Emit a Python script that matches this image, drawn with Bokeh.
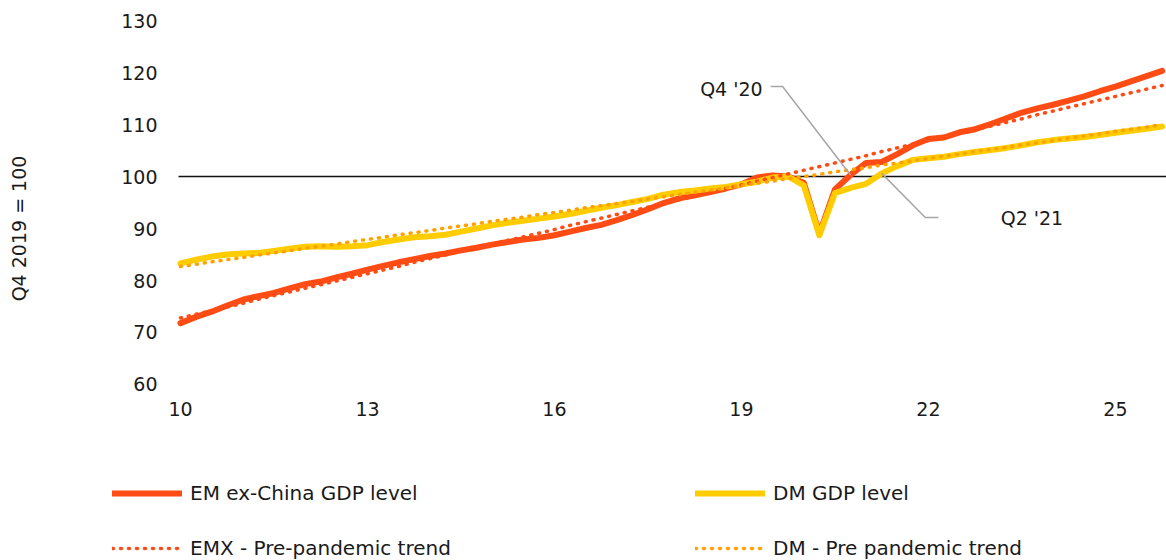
from math import pi
from bokeh.plotting import figure
from bokeh.models import (Range1d, FixedTicker, LinearAxis, Legend, LegendItem,
                          Label)
from bokeh.embed import file_html
from bokeh.resources import INLINE

FONT = "DejaVu Sans"

# ---------------- data (quarterly, Q1 2010 .. Q4 2025) ----------------
years = list(range(2010, 2026))
quarters = [1, 2, 3, 4]
quarter_x = [y - 2000 + (q - 1) / 4 for y in years for q in quarters]

em_gdp = [
    71.8, 73.0, 74.0, 75.2, 76.3, 77.0, 77.6, 78.5,
    79.3, 79.8, 80.6, 81.3, 82.1, 82.8, 83.5, 84.1,
    84.7, 85.2, 85.8, 86.3, 86.9, 87.4, 87.9, 88.2,
    88.7, 89.4, 90.1, 90.7, 91.6, 92.6, 93.7, 94.9,
    95.8, 96.4, 97.0, 97.7, 98.5, 99.8, 100.2, 100.0,
    98.8, 89.0, 97.5, 100.3, 102.6, 102.8, 104.3, 106.0,
    107.2, 107.5, 108.5, 109.1, 110.1, 111.2, 112.3, 113.1,
    113.8, 114.6, 115.4, 116.4, 117.3, 118.3, 119.3, 120.3,
]
dm_gdp = [
    83.3, 84.0, 84.6, 85.0, 85.2, 85.3, 85.7, 86.1,
    86.5, 86.6, 86.5, 86.6, 86.8, 87.4, 87.9, 88.3,
    88.5, 88.8, 89.4, 90.0, 90.6, 91.1, 91.5, 91.9,
    92.3, 92.8, 93.4, 94.0, 94.5, 95.1, 95.7, 96.5,
    97.0, 97.3, 97.7, 98.0, 98.5, 99.0, 99.8, 100.0,
    98.3, 88.7, 96.8, 97.8, 98.6, 100.6, 102.0, 103.2,
    103.5, 103.8, 104.3, 104.7, 105.1, 105.5, 106.0, 106.6,
    107.0, 107.3, 107.6, 108.0, 108.4, 108.8, 109.2, 109.6,
]
em_trend = [
    72.8, 73.5, 74.2, 74.9, 75.6, 76.4, 77.1, 77.8,
    78.5, 79.2, 79.9, 80.6, 81.3, 82.0, 82.7, 83.5,
    84.2, 84.9, 85.6, 86.3, 87.0, 87.7, 88.4, 89.1,
    89.8, 90.6, 91.3, 92.0, 92.7, 93.4, 94.1, 94.8,
    95.5, 96.2, 96.9, 97.7, 98.4, 99.1, 99.8, 100.5,
    101.2, 101.9, 102.6, 103.3, 104.0, 104.8, 105.5, 106.2,
    106.9, 107.6, 108.3, 109.0, 109.7, 110.4, 111.1, 111.9,
    112.6, 113.3, 114.0, 114.7, 115.4, 116.1, 116.8, 117.5,
]
dm_trend = [
    82.7, 83.1, 83.6, 84.0, 84.4, 84.9, 85.3, 85.7,
    86.2, 86.6, 87.0, 87.5, 87.9, 88.3, 88.8, 89.2,
    89.6, 90.1, 90.5, 90.9, 91.4, 91.8, 92.2, 92.7,
    93.1, 93.5, 94.0, 94.4, 94.8, 95.2, 95.7, 96.1,
    96.5, 97.0, 97.4, 97.8, 98.3, 98.7, 99.1, 99.6,
    100.0, 100.4, 100.9, 101.3, 101.7, 102.2, 102.6, 103.0,
    103.5, 103.9, 104.3, 104.8, 105.2, 105.6, 106.1, 106.5,
    106.9, 107.4, 107.8, 108.2, 108.7, 109.1, 109.5, 110.0,
]

x_ticks = [10, 13, 16, 19, 22, 25]
y_ticks = [60, 70, 80, 90, 100, 110, 120, 130]
baseline = 100

labels = ["EM ex-China GDP level", "DM GDP level",
          "EMX - Pre-pandemic trend", "DM - Pre pandemic trend"]
y_title = "Q4 2019 = 100"
note_q4 = "Q4 '20"
note_q2 = "Q2 '21"

EM_COL = "#ff4b14"
DM_COL = "#ffcc00"
DM_TREND_COL = "#ffa200"
GREY = "#a6a6a6"
TXT = "#1a1a1a"

# plotting area of the chart (axes sit at its left and bottom edges)
X_START, X_END = 9.968, 25.82
Y_BOTTOM = 60

# ---------------- figure: frame covers the whole canvas ----------------
p = figure(width=1166, height=560, output_backend="svg", toolbar_location=None,
           x_range=Range1d(7.112, X_END), y_range=Range1d(26.15, 133.85),
           x_axis_location=None, y_axis_location=None, min_border=0)
p.outline_line_color = None
p.background_fill_color = "white"
p.border_fill_color = "white"
p.grid.grid_line_color = None

xax = LinearAxis(ticker=FixedTicker(ticks=x_ticks), fixed_location=Y_BOTTOM)
yax = LinearAxis(ticker=FixedTicker(ticks=y_ticks), fixed_location=X_START)
for ax in (xax, yax):
    ax.axis_line_color = None
    ax.major_tick_line_color = None
    ax.minor_tick_line_color = None
    ax.major_label_text_font = FONT
    ax.major_label_text_font_size = "19px"
    ax.major_label_text_color = TXT
xax.major_label_standoff = 12
yax.major_label_standoff = 15
p.add_layout(xax, "below")
p.add_layout(yax, "left")

p.add_layout(Label(x=18, y=332, x_units="screen", y_units="screen",
                   text=y_title, angle=pi / 2, text_align="center",
                   text_baseline="middle", text_font=FONT,
                   text_font_size="19px", text_color=TXT))

# reference line at 100 across the plotting area
p.line([X_START, X_END], [baseline, baseline], line_color="#111111", line_width=1.6)

r_em = p.line(quarter_x, em_gdp, line_color=EM_COL, line_width=6,
              line_join="round", line_cap="round")
r_dm = p.line(quarter_x, dm_gdp, line_color=DM_COL, line_width=6,
              line_join="round", line_cap="round")
r_emt = p.line(quarter_x, em_trend, line_color=EM_COL, line_width=3.5,
               line_dash="1 7", line_cap="round")
r_dmt = p.line(quarter_x, dm_trend, line_color=DM_TREND_COL, line_width=3.5,
               line_dash="1 7", line_cap="round")

# ---------------- callouts ----------------
i_q4 = quarter_x.index(20.75)
i_q2 = quarter_x.index(21.25)
p.line([19.47, 19.66, quarter_x[i_q4]], [117.3, 117.3, em_gdp[i_q4]],
       line_color=GREY, line_width=1.5)
p.line([22.16, 21.95, quarter_x[i_q2]], [92.1, 92.1, dm_gdp[i_q2]],
       line_color=GREY, line_width=1.5)
p.add_layout(Label(x=19.34, y=116.9, text=note_q4, text_align="right",
                   text_baseline="middle", text_font=FONT,
                   text_font_size="19px", text_color=TXT))
p.add_layout(Label(x=23.16, y=92.1, text=note_q2, text_align="left",
                   text_baseline="middle", text_font=FONT,
                   text_font_size="19px", text_color=TXT))

# ---------------- legend (two columns under the chart) ----------------
legend = Legend(items=[LegendItem(label=labels[0], renderers=[r_em]),
                       LegendItem(label=labels[2], renderers=[r_emt]),
                       LegendItem(label=labels[1], renderers=[r_dm]),
                       LegendItem(label=labels[3], renderers=[r_dmt])],
                location=(112, 0), ncols=2,
                glyph_width=70, glyph_height=24, label_height=24,
                label_width=474, label_standoff=8, spacing=31,
                padding=0, margin=0,
                border_line_color=None, background_fill_alpha=0,
                label_text_font=FONT, label_text_font_size="20px",
                label_text_color=TXT)
p.add_layout(legend, "center")

open("out.html", "w").write(file_html(p, INLINE))
